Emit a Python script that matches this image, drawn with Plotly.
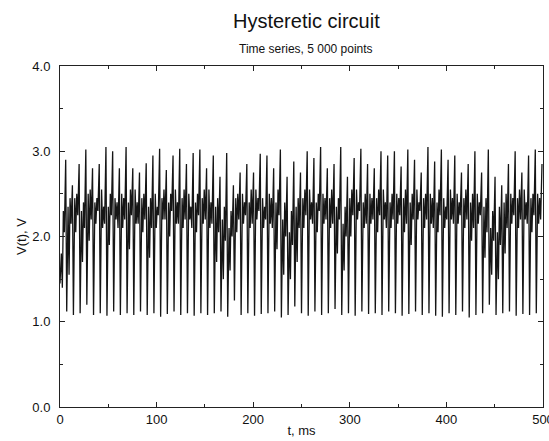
import plotly.graph_objects as go

# Per-cycle values (V)
peaks = [
    2.90, 2.60, 2.85, 3.02, 2.80, 2.85, 3.05, 3.00, 2.80, 3.05,
    2.80, 2.75, 2.86, 2.95, 3.03, 2.78, 2.95, 3.03, 2.85, 2.98,
    3.02, 2.80, 2.95, 2.70, 2.98, 2.60, 2.75, 2.85, 2.75, 2.97,
    2.95, 2.80, 3.02, 2.70, 2.88, 2.75, 3.00, 2.92, 3.05, 2.80,
    2.85, 3.05, 2.70, 2.92, 3.03, 2.85, 2.80, 3.00, 2.95, 3.00,
    2.82, 3.02, 2.90, 2.75, 3.05, 2.88, 3.02, 2.90, 2.95, 2.75,
    2.85, 3.00, 2.75, 3.02, 2.70, 2.60, 2.85, 3.00, 2.75, 2.95,
    3.02, 2.85,
]
troughs = [
    1.45, 1.12, 1.08, 1.10, 1.20, 1.08, 1.10, 1.07, 1.12, 1.08,
    1.10, 1.08, 1.12, 1.08, 1.10, 1.06, 1.09, 1.12, 1.08, 1.10,
    1.07, 1.10, 1.08, 1.10, 1.12, 1.06, 1.25, 1.08, 1.10, 1.07,
    1.09, 1.10, 1.12, 1.05, 1.08, 1.18, 1.10, 1.07, 1.12, 1.08,
    1.10, 1.15, 1.08, 1.10, 1.07, 1.12, 1.09, 1.10, 1.08, 1.12,
    1.10, 1.07, 1.09, 1.12, 1.08, 1.10, 1.07, 1.06, 1.10, 1.08,
    1.12, 1.05, 1.08, 1.10, 1.20, 1.08, 1.10, 1.12, 1.07, 1.09,
    1.08, 1.10,
]
mid_hi = [
    1.80, 2.35, 2.45, 2.30, 2.50, 2.40, 2.55, 2.35, 2.45, 2.50,
    2.40, 2.55, 2.45, 2.35, 2.50, 2.45, 2.40, 2.55, 2.45, 2.50,
    2.40, 2.45, 2.55, 2.35, 2.20, 2.10, 2.45, 2.50, 2.40, 2.55,
    2.45, 2.50, 2.40, 2.20, 2.05, 2.35, 2.45, 2.55, 2.40, 2.50,
    2.45, 2.35, 2.15, 2.45, 2.55, 2.40, 2.50, 2.45, 2.55, 2.40,
    2.50, 2.45, 2.40, 2.55, 2.45, 2.50, 2.40, 2.45, 2.55, 2.50,
    2.45, 2.40, 2.50, 2.35, 2.10, 2.05, 2.40, 2.50, 2.45, 2.55,
    2.45, 2.50,
]
mid_lo = [
    1.40, 1.55, 2.05, 1.70, 1.95, 2.15, 2.10, 1.90, 2.20, 2.10,
    1.85, 2.15, 2.05, 1.75, 2.10, 2.20, 2.00, 2.15, 2.10, 2.20,
    2.05, 2.15, 2.10, 1.70, 1.50, 1.60, 2.05, 2.15, 2.10, 2.20,
    2.10, 2.15, 1.85, 1.55, 1.50, 1.70, 2.10, 2.20, 2.05, 2.15,
    2.10, 1.80, 1.60, 2.00, 2.20, 2.10, 2.15, 2.05, 2.20, 2.10,
    2.15, 2.05, 1.90, 2.20, 2.10, 2.15, 2.05, 2.10, 2.20, 2.15,
    2.10, 1.95, 2.15, 1.75, 1.55, 1.50, 1.80, 2.15, 2.10, 2.20,
    2.05, 2.15,
]
mid_hi2 = [
    2.30, 2.45, 2.50, 2.40, 2.55, 2.45, 2.35, 2.50, 2.40, 2.45,
    2.55, 2.40, 2.50, 2.45, 2.35, 2.55, 2.50, 2.40, 2.55, 2.35,
    2.50, 2.55, 2.40, 2.45, 2.35, 2.30, 2.50, 2.40, 2.55, 2.45,
    2.35, 2.45, 2.55, 2.40, 2.30, 2.45, 2.55, 2.40, 2.50, 2.45,
    2.55, 2.45, 2.35, 2.55, 2.40, 2.50, 2.45, 2.55, 2.40, 2.50,
    2.45, 2.55, 2.50, 2.40, 2.50, 2.45, 2.55, 2.35, 2.45, 2.40,
    2.55, 2.50, 2.40, 2.45, 2.30, 2.35, 2.50, 2.45, 2.55, 2.40,
    2.50, 2.45,
]
mid_lo2 = [
    2.05, 2.15, 2.25, 2.10, 2.20, 2.30, 2.15, 2.25, 2.10, 2.20,
    2.25, 2.15, 2.20, 2.10, 2.25, 2.20, 2.30, 2.15, 2.20, 2.10,
    2.25, 2.20, 2.15, 2.05, 1.95, 2.00, 2.20, 2.25, 2.15, 2.30,
    2.20, 2.10, 2.25, 2.00, 1.90, 2.10, 2.25, 2.15, 2.30, 2.20,
    2.15, 2.20, 2.00, 2.25, 2.30, 2.15, 2.20, 2.25, 2.10, 2.20,
    2.25, 2.15, 2.20, 2.30, 2.20, 2.10, 2.25, 2.20, 2.15, 2.25,
    2.20, 2.10, 2.25, 2.05, 1.95, 1.90, 2.10, 2.25, 2.20, 2.15,
    2.25, 2.20,
]

t_span = 500.0  # ms
n = len(peaks)
period = t_span / n
phase = [0.0, 0.2, 0.35, 0.5, 0.65, 0.85]

t, v = [], []
for i in range(n):
    vals = [troughs[i], mid_hi[i], mid_lo[i], mid_hi2[i], mid_lo2[i], peaks[i]]
    for ph, val in zip(phase, vals):
        t.append((i + ph) * period)
        v.append(val)

fig = go.Figure()
fig.add_trace(go.Scatter(x=t, y=v, mode="lines",
                         line=dict(color="#151515", width=1.3),
                         hoverinfo="skip", showlegend=False))

font_family = "Liberation Sans, Arial, sans-serif"
fig.update_layout(
    template="none",
    width=549, height=441,
    margin=dict(l=60, r=6, t=66, b=34),
    paper_bgcolor="white", plot_bgcolor="white",
    font=dict(family=font_family, color="#111111", size=13),
    annotations=[
        dict(text="Hysteretic circuit", x=0.51, y=1, xref="paper", yref="paper",
             yanchor="bottom", yshift=32, showarrow=False, font=dict(size=20)),
        dict(text="Time series, 5 000 points", x=0.51, y=1, xref="paper", yref="paper",
             yanchor="bottom", yshift=8, showarrow=False, font=dict(size=12)),
    ],
)

axis_common = dict(ticks="inside", ticklen=5, tickcolor="#222", showline=True,
                   linecolor="#222", linewidth=1, mirror="ticks", showgrid=False,
                   zeroline=False, automargin=False, tickfont=dict(size=13))
fig.update_xaxes(range=[0, 500], dtick=100, tick0=0, ticklabeloverflow="allow",
                 minor=dict(dtick=50, ticks="inside", ticklen=3, tickcolor="#222"),
                 title=dict(text="t, ms", standoff=0, font=dict(size=13)),
                 **axis_common)
fig.update_yaxes(range=[0, 4], dtick=1, tick0=0, tickformat=".1f",
                 ticklabelstandoff=6,
                 minor=dict(dtick=0.5, ticks="inside", ticklen=3, tickcolor="#222"),
                 title=dict(text="V(t), V", standoff=2, font=dict(size=13)),
                 **axis_common)

fig.write_html(
    "out.html",
    config={"displayModeBar": False},
    post_script="document.body.style.margin='0';document.body.style.overflow='hidden';",
)
